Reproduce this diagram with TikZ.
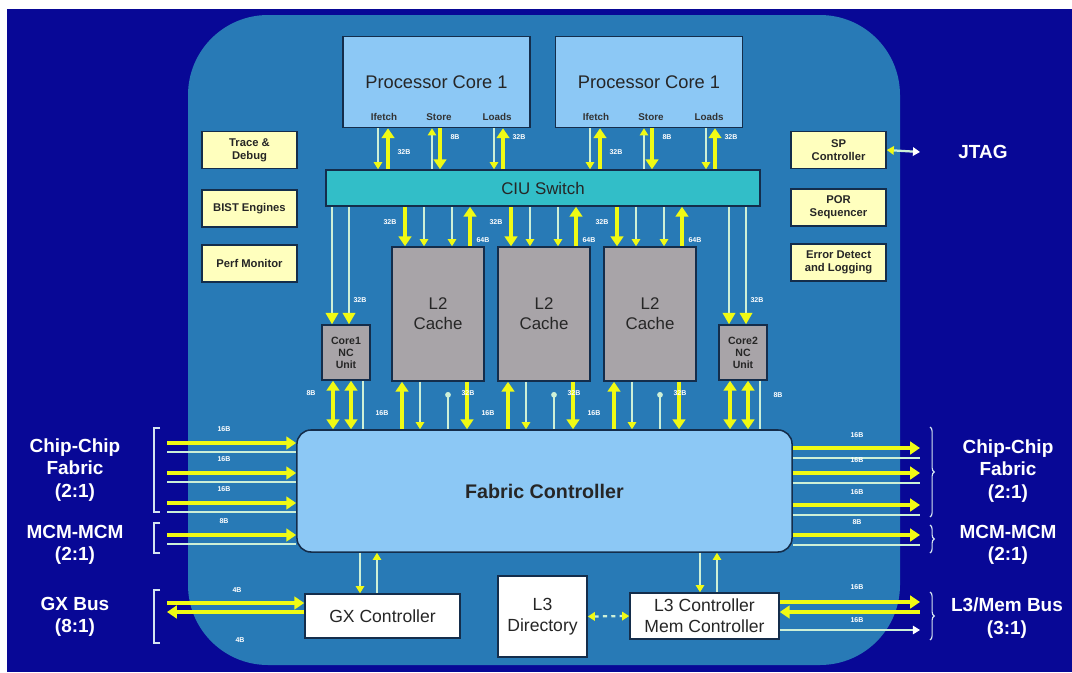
\documentclass[tikz,border=0pt]{standalone}
\usepackage{fontspec}
\setmainfont{Liberation Sans}
\usetikzlibrary{arrows.meta,positioning,decorations.pathreplacing}

\definecolor{navy}{RGB}{8,8,150}
\definecolor{panel}{RGB}{40,122,182}
\definecolor{coreblue}{RGB}{140,200,245}
\definecolor{ciuteal}{RGB}{50,190,200}
\definecolor{cachegray}{RGB}{168,164,168}
\definecolor{paleyel}{RGB}{255,255,190}
\definecolor{arryel}{RGB}{240,250,20}
\definecolor{thinline}{RGB}{205,240,215}
\definecolor{edge}{RGB}{20,45,75}

\begin{document}
\begin{tikzpicture}[x=0.025cm, y=-0.025cm,
    box/.style={draw=edge, line width=1.1pt, align=center, inner sep=1pt, text=black!85},
    corebox/.style={box, fill=coreblue, minimum width=4.675cm, minimum height=2.275cm, font=\fontsize{13}{15}\selectfont},
    ctlbox/.style={box, fill=paleyel, minimum width=2.375cm, minimum height=0.925cm, font=\fontsize{8}{9.5}\selectfont\bfseries},
    cachebox/.style={box, fill=cachegray, minimum width=2.3cm, minimum height=3.35cm, font=\fontsize{12}{14}\selectfont},
    ncbox/.style={box, fill=cachegray, minimum width=1.2cm, minimum height=1.375cm, font=\fontsize{7.5}{8.5}\selectfont\bfseries},
    iobox/.style={box, fill=white, font=\fontsize{12.5}{15}\selectfont},
    sidelbl/.style={text=white, align=center, font=\fontsize{13.5}{16}\selectfont\bfseries},
    portlbl/.style={font=\fontsize{7}{8}\selectfont\bfseries, text=black!80, inner sep=0pt},
    bwlbl/.style={font=\fontsize{5}{5}\selectfont\bfseries, text=white, inner sep=0.5pt},
    bigarr/.style={-{Triangle[length=7pt,width=9pt]}, line width=2.6pt, draw=arryel},
    thinarr/.style={-{Triangle[length=5pt,width=6pt,color=arryel]}, line width=0.8pt, draw=thinline},
    ncarr/.style={-{Triangle[length=8pt,width=9pt,color=arryel]}, line width=1pt, draw=thinline},
    thinln/.style={line width=0.8pt, draw=thinline},
    brk/.style={draw=white!80!panel, line width=0.8pt}
  ]
  % background
  \useasboundingbox (0,0) rectangle (1072,672);
  \fill[white] (0,0) rectangle (1072,672);
  \fill[navy] (7,9) rectangle (1072,672);
  \fill[panel, rounded corners=2cm] (188,15) rectangle (900,665);

  % cores and switch
  \node[corebox] (core1) at (436.5,82) {Processor Core 1};
  \node[corebox] (core2) at (649,82) {Processor Core 1};
  \foreach \c/\dx in {1/0, 2/212} {
    \node[portlbl] (if\c) at (384+\dx,117) {Ifetch};
    \node[portlbl] (st\c) at (439+\dx,117) {Store};
    \node[portlbl] (ld\c) at (497+\dx,117) {Loads};
  }
  \node[box, fill=ciuteal, minimum width=10.85cm, minimum height=0.9cm,
        font=\fontsize{12}{14}\selectfont] (ciu) at (543,188) {CIU Switch};

  % side units
  \node[ctlbox] (trace) at (249.5,150) {Trace \&\\Debug};
  \node[ctlbox] (bist) at (249.5,208.5) {BIST Engines};
  \node[ctlbox] (perf) at (249.5,263.5) {Perf Monitor};
  \node[ctlbox] (sp) at (838.5,150) {SP\\Controller};
  \node[ctlbox] (por) at (838.5,207.5) {POR\\Sequencer};
  \node[ctlbox] (err) at (838.5,262.5) {Error Detect\\and Logging};

  % caches
  \node[cachebox] (l2a) at (438,314) {L2\\Cache};
  \node[cachebox] (l2b) at (544,314) {L2\\Cache};
  \node[cachebox] (l2c) at (650,314) {L2\\Cache};
  \node[ncbox] (nc1) at (346,352.5) {Core1\\NC\\Unit};
  \node[ncbox] (nc2) at (743,352.5) {Core2\\NC\\Unit};

  % fabric and bottom row
  \node[box, fill=coreblue, rounded corners=10pt, minimum width=12.375cm, minimum height=3.05cm,
        font=\fontsize{14}{16}\selectfont\bfseries] (fabric) at (544.5,491) {Fabric Controller};
  \node[iobox, minimum width=3.875cm, minimum height=1.1cm] (gx) at (382.5,616) {GX Controller};
  \node[iobox, minimum width=2.225cm, minimum height=2.025cm] (l3dir) at (542.5,616.5) {L3\\Directory};
  \node[iobox, minimum width=3.725cm, minimum height=1.15cm] (l3ctl) at (704.5,616) {L3 Controller\\Mem Controller};

  % outside labels
  \node[sidelbl] (lfab) at (75,470) {Chip-Chip\\Fabric\\(2:1)};
  \node[sidelbl] (lmcm) at (75,545) {MCM-MCM\\(2:1)};
  \node[sidelbl] (lgx) at (75,617) {GX Bus\\(8:1)};
  \node[sidelbl] (rfab) at (1008,471) {Chip-Chip\\Fabric\\(2:1)};
  \node[sidelbl] (rmcm) at (1008,545) {MCM-MCM\\(2:1)};
  \node[sidelbl] (rmem) at (1007,618) {L3/Mem Bus\\(3:1)};
  \node[sidelbl] (jtag) at (983,152) {JTAG};

  % core <-> CIU
  \foreach \dx in {0,212} {
    \draw[bigarr] (388+\dx,0 |- ciu.north) -- (388+\dx,0 |- core1.south);
    \draw[thinarr] (378+\dx,0 |- core1.south) -- (378+\dx,0 |- ciu.north);
    \draw[bigarr] (440+\dx,0 |- core1.south) -- (440+\dx,0 |- ciu.north);
    \draw[thinarr] (432+\dx,0 |- ciu.north) -- (432+\dx,0 |- core1.south);
    \draw[bigarr] (503+\dx,0 |- ciu.north) -- (503+\dx,0 |- core1.south);
    \draw[thinarr] (494+\dx,0 |- core1.south) -- (494+\dx,0 |- ciu.north);
    \node[bwlbl] (bwif\dx) at (404+\dx,152) {32B};
    \node[bwlbl] (bwst\dx) at (455+\dx,137) {8B};
    \node[bwlbl] (bwld\dx) at (519+\dx,137) {32B};
  }

  % CIU <-> L2 and L2 <-> fabric
  \foreach \n/\c in {l2a/438, l2b/544, l2c/650} {
    \draw[bigarr] (\c-33,0 |- ciu.south) -- (\c-33,0 |- \n.north);
    \draw[thinarr] (\c-14,0 |- ciu.south) -- (\c-14,0 |- \n.north);
    \draw[thinarr] (\c+14,0 |- ciu.south) -- (\c+14,0 |- \n.north);
    \draw[bigarr] (\c+32,0 |- \n.north) -- (\c+32,0 |- ciu.south);
    \node[bwlbl] (bwa\n) at (\c-48,222) {32B};
    \node[bwlbl] (bwb\n) at (\c+45,240) {64B};
    \draw[bigarr] (\c-36,0 |- fabric.north) -- (\c-36,0 |- \n.south);
    \draw[thinarr] (\c-18,0 |- \n.south) -- (\c-18,0 |- fabric.north);
    \draw[thinln, {Circle[length=4pt,color=thinline]}-] (\c+10,392) -- (\c+10,0 |- fabric.north);
    \draw[bigarr] (\c+29,0 |- \n.south) -- (\c+29,0 |- fabric.north);
    \node[bwlbl] (bwc\n) at (\c+30,393) {32B};
    \node[bwlbl] (bwd\n) at (\c-56,413) {16B};
  }

  % CIU <-> NC units, NC <-> fabric
  \foreach \n/\c in {nc1/346, nc2/743} {
    \draw[ncarr] (\c-14,0 |- ciu.south) -- (\c-14,0 |- \n.north);
    \draw[ncarr] (\c+3,0 |- ciu.south) -- (\c+3,0 |- \n.north);
    \draw[bigarr, {Triangle[length=7pt,width=9pt]}-{Triangle[length=7pt,width=9pt]}] (\c-13,0 |- \n.south) -- (\c-13,0 |- fabric.north);
    \draw[bigarr, {Triangle[length=7pt,width=9pt]}-{Triangle[length=7pt,width=9pt]}] (\c+5,0 |- \n.south) -- (\c+5,0 |- fabric.north);
    \draw[thinln] (\c+17,0 |- \n.south) -- (\c+17,0 |- fabric.north);
    \node[bwlbl] (bwe\n) at (\c+14,300) {32B};
  }
  \node[bwlbl] (bwnc1) at (311,393) {8B};
  \node[bwlbl] (bwnc2) at (778,395) {8B};

  % chip-chip and MCM links
  \foreach \y/\t [count=\i] in {443/16B, 473/16B, 503/16B, 535/8B} {
    \coordinate (lin\i) at (167,\y);
    \draw[bigarr] (lin\i) -- (lin\i -| fabric.west);
    \draw[thinln] (167,\y+9) -- (fabric.west |- 0,\y+9);
    \node[bwlbl] (lbw\i) at (224,\y-14) {\t};
  }
  \foreach \y/\t [count=\i] in {448/16B, 473/16B, 505/16B, 535/8B} {
    \coordinate (rout\i) at (920,\y);
    \draw[bigarr] (rout\i -| fabric.east) -- (rout\i);
    \draw[thinln] (fabric.east |- 0,\y+10) -- (920,\y+10);
    \node[bwlbl] (rbw\i) at (857,\y-13) {\t};
  }

  % GX bus
  \coordinate (gxin) at (167,603);
  \coordinate (gxout) at (167,612);
  \draw[bigarr] (gxin) -- (gxin -| gx.west);
  \draw[bigarr] (gxout -| gx.west) -- (gxout);
  \node[bwlbl] (gxbw1) at (237,590) {4B};
  \node[bwlbl] (gxbw2) at (240,640) {4B};

  % L3 / memory bus
  \coordinate (memo) at (920,602);
  \coordinate (memi) at (920,612);
  \coordinate (memt) at (920,630);
  \draw[bigarr] (memo -| l3ctl.east) -- (memo);
  \draw[bigarr] (memi) -- (memi -| l3ctl.east);
  \draw[thinln, -{Triangle[length=5pt,width=6pt,color=white]}] (memt -| l3ctl.east) -- (memt);
  \node[bwlbl] (membw1) at (857,587) {16B};
  \node[bwlbl] (membw2) at (857,620) {16B};

  % fabric <-> GX and L3 controller
  \draw[thinarr] (360,0 |- fabric.south) -- (360,0 |- gx.north);
  \draw[thinarr] (377,0 |- gx.north) -- (377,0 |- fabric.south);
  \draw[thinarr] (700,0 |- fabric.south) -- (700,0 |- l3ctl.north);
  \draw[thinarr] (717,0 |- l3ctl.north) -- (717,0 |- fabric.south);
  \draw[thinarr, dashed, line width=1.6pt, {Triangle[length=5pt,width=6pt,color=arryel]}-{Triangle[length=5pt,width=6pt,color=arryel]}] (l3dir.east) -- (l3ctl.west);

  % JTAG
  \coordinate (jtagpin) at (920,152);
  \draw[thinarr, line width=1.6pt, {Triangle[length=5pt,width=6pt,color=arryel]}-{Triangle[length=5pt,width=6pt,color=white]}] (sp.east) -- (jtagpin);

  % brackets
  \draw[brk] (160,428) -- (154,428) -- (154,512) -- (160,512);
  \draw[brk] (160,523) -- (154,523) -- (154,553) -- (160,553);
  \draw[brk] (160,590) -- (154,590) -- (154,643) -- (160,643);
  \draw[brk, decorate, decoration={brace, amplitude=3pt}] (930,427) -- (930,517);
  \draw[brk, decorate, decoration={brace, amplitude=3pt}] (930,525) -- (930,553);
  \draw[brk, decorate, decoration={brace, amplitude=3pt}] (930,592) -- (930,640);
\end{tikzpicture}
\end{document}
